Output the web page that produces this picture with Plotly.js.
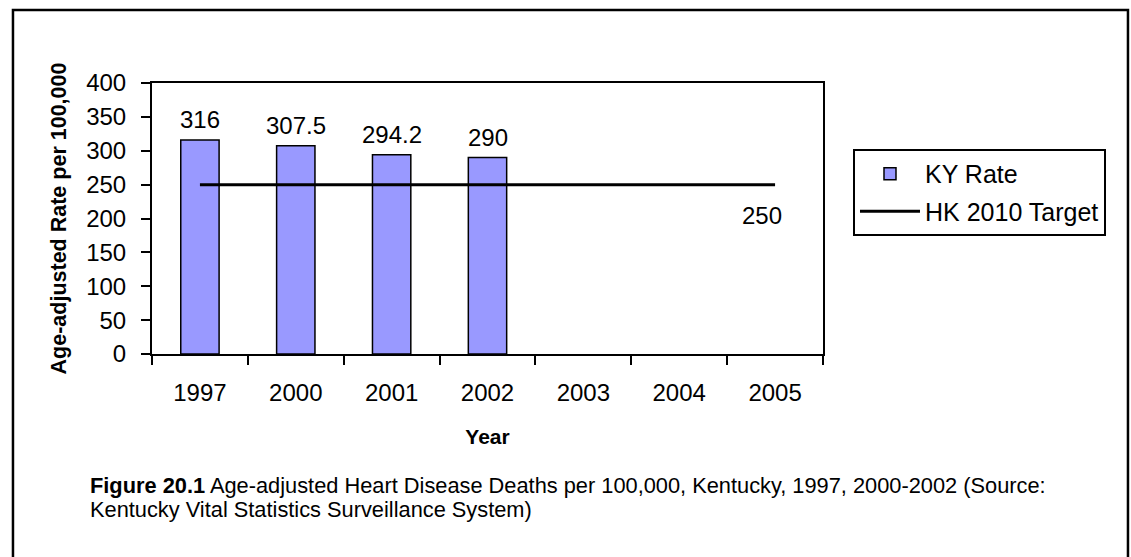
<!DOCTYPE html>
<html>
<head>
<meta charset="utf-8">
<script src="https://cdn.plot.ly/plotly-3.0.1.min.js"></script>
<style>html,body{margin:0;padding:0;background:#fff;}#chart{width:1131px;height:557px;}</style>
</head>
<body>
<div id="chart"></div>
<script>
// ---- data ----
const categories = ["1997", "2000", "2001", "2002", "2003", "2004", "2005"];
const barYears = ["1997", "2000", "2001", "2002"];
const kyRate = [316, 307.5, 294.2, 290];
const kyLabels = ["316", "307.5", "294.2", "290"];
const targetValue = 250;
const targetValues = [250, 250, 250, 250, 250, 250, 250];
const yTicks = [0, 50, 100, 150, 200, 250, 300, 350, 400];
const seriesNames = ["KY Rate", "HK 2010 Target"];
const yTitle = "Age-adjusted Rate per 100,000";
const xTitle = "Year";
const captionLine1 = "<b>Figure 20.1</b> Age-adjusted Heart Disease Deaths per 100,000, Kentucky, 1997, 2000-2002 (Source:";
const captionLine2 = "Kentucky Vital Statistics Surveillance System)";

const FONT = "Arial, 'Liberation Sans', sans-serif";
const TICK = 24;

const traces = [
  {
    type: "bar",
    name: seriesNames[0],
    legendgroup: "a",
    x: barYears,
    y: kyRate,
    marker: {color: "#9999ff", line: {color: "#000", width: 1.5}},
    hoverinfo: "skip"
  },
  {
    type: "scatter",
    mode: "lines",
    name: seriesNames[1],
    legendgroup: "b",
    x: categories,
    y: targetValues,
    line: {color: "#000", width: 3},
    hoverinfo: "skip"
  }
];

const annotations = [];
barYears.forEach((c, i) => {
  annotations.push({
    x: categories.indexOf(c), y: kyRate[i], xref: "x", yref: "y",
    text: kyLabels[i], showarrow: false,
    yanchor: "bottom", yshift: 5,
    font: {family: FONT, size: TICK, color: "#000"}
  });
});
annotations.push({
  x: categories.length - 1, y: targetValue, xref: "x", yref: "y",
  text: String(targetValue), showarrow: false,
  xshift: -13, yshift: -31,
  font: {family: FONT, size: TICK, color: "#000"}
});
annotations.push({
  x: -0.0954, y: -0.4834, xref: "paper", yref: "paper",
  xanchor: "left", yanchor: "middle", showarrow: false,
  text: captionLine1, font: {family: FONT, size: 21.8, color: "#000"}
});
annotations.push({
  x: -0.0954, y: -0.574, xref: "paper", yref: "paper",
  xanchor: "left", yanchor: "middle", showarrow: false,
  text: captionLine2, font: {family: FONT, size: 21.8, color: "#000"}
});

const layout = {
  width: 1131, height: 557,
  margin: {l: 152, r: 308, t: 83, b: 203, pad: 0},
  paper_bgcolor: "#fff", plot_bgcolor: "#fff",
  font: {family: FONT, color: "#000", size: TICK},
  bargap: 0.6,
  showlegend: true,
  legend: {
    x: 1.0447, xanchor: "left", y: 0.7565, yanchor: "top",
    bordercolor: "#000", borderwidth: 2, bgcolor: "#fff",
    font: {family: FONT, size: 25, color: "#000"},
    itemwidth: 60, tracegroupgap: 2
  },
  xaxis: {
    type: "category",
    categoryarray: categories, categoryorder: "array",
    range: [-0.5, categories.length - 0.5],
    showline: true, linecolor: "#000", linewidth: 2, mirror: true,
    ticks: "outside", tickson: "boundaries", ticklen: 9, tickwidth: 2, tickcolor: "#000",
    ticklabelstandoff: 16,
    showgrid: false, zeroline: false,
    tickfont: {family: FONT, size: TICK, color: "#000"},
    title: {text: "<b>" + xTitle + "</b>", font: {family: FONT, size: 21, color: "#000"}, standoff: 25}
  },
  yaxis: {
    range: [0, 400],
    tickmode: "array", tickvals: yTicks, ticktext: yTicks.map(String),
    showline: true, linecolor: "#000", linewidth: 2, mirror: true,
    ticks: "outside", ticklen: 9, tickwidth: 2, tickcolor: "#000",
    ticklabelstandoff: 10,
    showgrid: false, zeroline: false,
    tickfont: {family: FONT, size: TICK, color: "#000"},
    title: {text: "<b>" + yTitle + "</b>", font: {family: FONT, size: 21.5, color: "#000"}, standoff: 14}
  },
  annotations: annotations,
  shapes: [{
    type: "rect", xref: "paper", yref: "paper",
    x0: -0.2072, x1: 1.4545, y0: -0.80, y1: 1.2694,
    line: {color: "#000", width: 2.5}, fillcolor: "rgba(0,0,0,0)", layer: "above"
  }]
};

Plotly.newPlot("chart", traces, layout, {displayModeBar: false, staticPlot: true});
</script>
</body>
</html>
